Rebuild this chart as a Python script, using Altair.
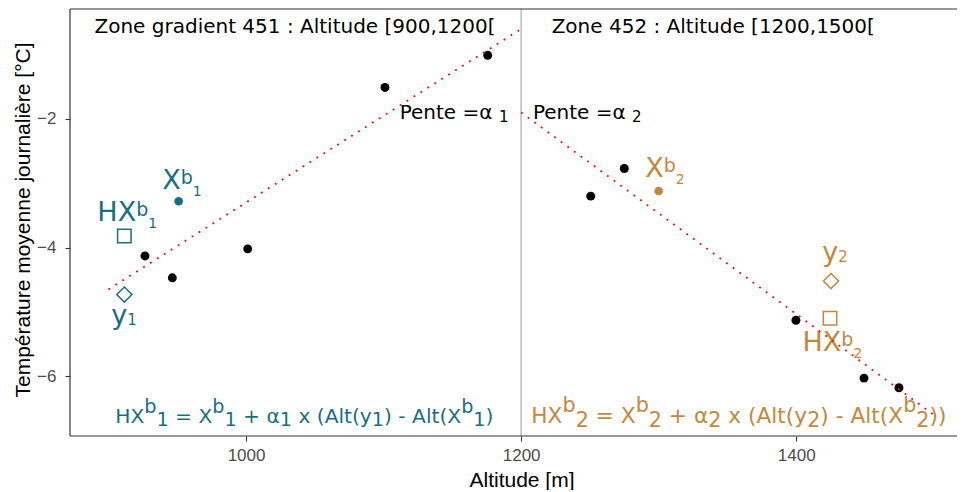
import altair as alt
import pandas as pd

# ---------------- data ----------------
PPU = 894 / 650
W, H = 887, 427
XMIN = 872
XMAX = XMIN + W / PPU
YMIN, YMAX = -6.93, -0.29

alt_obs = [926.5, 946.4, 1001.2, 1101, 1175.7, 1250.6, 1275, 1399.8, 1449.3, 1474.7]
temp_obs = [-4.13, -4.47, -4.02, -1.51, -1.01, -3.20, -2.77, -5.13, -6.03, -6.18]

colors = ["#176F86", "#C5883A"]
xb_alt = [951, 1300]
xb_t = [-3.28, -3.12]
hx_alt = [911.5, 1424.6]
hx_t = [-3.82, -5.10]
yo_alt = [911.5, 1425.3]
yo_t = [-4.73, -4.52]

# point labels: (parts, anchor x, baseline y, colour)
lab_parts = [
    [("X", "ln"), ("b", "lsup"), ("1", "lsub")],
    [("HX", "ln"), ("b", "lsup"), ("1", "lsub")],
    [("y", "ln"), ("1", "lysub")],
    [("X", "ln"), ("b", "lsup"), ("2", "lsub")],
    [("HX", "ln"), ("b", "lsup"), ("2", "lsub")],
    [("y", "ln"), ("2", "lysub")],
]
lab_x = [939.0, 891.9, 902.0, 1290.2, 1404.5, 1418.9]
lab_y = [-3.09, -3.588, -5.19, -2.904, -5.61, -4.21]
lab_c = [colors[0]] * 3 + [colors[1]] * 3

fit_zone = ["451", "451", "452", "452"]
fit_alt = [900, 1200, 1200, 1500]
fit_t = [-4.65, -0.6, -1.9, -6.6]

zone_text = ["Zone gradient 451 : Altitude [900,1200[", "Zone 452 : Altitude [1200,1500["]
zone_x = [1035.6, 1339.7]
zone_y = [-0.668, -0.668]

pente_text = ["Pente =α", "Pente =α"]
pente_x = [1111.7, 1208.6]
pente_y = [-2.0, -2.0]
pente_sub = ["1", "2"]
pente_sub_x = [1183.9, 1280.6]
pente_sub_y = [-2.043, -2.043]

f1_parts = [("HX", "an"), ("b", "asup"), ("1", "asub"), (" = X", "an"), ("b", "asup"), ("1", "asub"),
            (" + α", "an"), ("1", "asub"), (" x (Alt(y", "an"), ("1", "asub"), (") - Alt(X", "an"),
            ("b", "asup"), ("1", "asub"), (")", "an")]
f2_parts = [("HX", "bn"), ("b", "bsup"), ("2", "bsub"), (" = X", "bn"), ("b", "bsup"), ("2", "bsub"),
            (" + α", "bn"), ("2", "bsub"), (" x (Alt(y", "bn"), ("2", "bsub"), (") - Alt(X", "bn"),
            ("b", "bsup"), ("2", "bsub"), ("))", "bn")]
f_anchor_x = [904.9, 1207.4]
f_anchor_y = -6.724

# DejaVu Sans advance widths (em)
W_EM = {" ": 0.318, "H": 0.752, "X": 0.685, "b": 0.635, "1": 0.636, "2": 0.636, "=": 0.838,
        "+": 0.838, "α": 0.659, "x": 0.592, "(": 0.390, ")": 0.390, "A": 0.684, "l": 0.278,
        "t": 0.392, "y": 0.592, "-": 0.361}
# style of each text kind: (font size, vertical offset)
STY = {
    "an": (20.2, 0), "asup": (19.2, -10), "asub": (19.2, 3.5),
    "bn": (21.7, 0), "bsup": (20.7, -10.8), "bsub": (20.7, 3.8),
    "ln": (27, 0), "lsup": (19, -5.5), "lsub": (14, 6.5), "lysub": (15, 1),
}


def adv(s, size):
    return sum(W_EM.get(ch, 0.6) for ch in s) * size


rows = []


def add(parts, ax, ay, col):
    cum = 0.0
    for txt, kind in parts:
        size = STY[kind][0]
        lead = len(txt) - len(txt.lstrip(" "))
        start = cum + adv(" " * lead, size)
        rows.append({"x": ax + start / PPU, "y": ay, "t": txt.strip(), "kind": kind, "c": col})
        cum += adv(txt, size)


add(f1_parts, f_anchor_x[0], f_anchor_y, colors[0])
add(f2_parts, f_anchor_x[1], f_anchor_y, colors[1])
for p, lx, ly, lc in zip(lab_parts, lab_x, lab_y, lab_c):
    add(p, lx, ly, lc)
seg_df = pd.DataFrame(rows)

# ---------------- chart ----------------
xscale = alt.Scale(domain=[XMIN, XMAX], nice=False, zero=False)
yscale = alt.Scale(domain=[YMIN, YMAX], nice=False, zero=False)
xaxis = alt.Axis(values=[1000, 1200, 1400], format="d", title="Altitude [m]", titleX=451.5,
                 titleY=50, titleAlign="center", titleBaseline="alphabetic", labelPadding=6)
yaxis = alt.Axis(values=[-2, -4, -6], title="Température moyenne journalière [°C]",
                 titleX=-47, titleY=210.5, titleAngle=270, titleAlign="center",
                 titleBaseline="middle", labelPadding=9)


def X(f="x"):
    return alt.X(f"{f}:Q", scale=xscale, axis=xaxis)


def Y(f="y"):
    return alt.Y(f"{f}:Q", scale=yscale, axis=yaxis)


frame_df = pd.DataFrame({"k": [0]})
FRAME = dict(color="#333333", strokeWidth=1.2)
frame_top = alt.Chart(frame_df).mark_rule(**FRAME).encode(
    x=alt.value(0), x2=alt.value(W), y=alt.value(0))
frame_bottom = alt.Chart(frame_df).mark_rule(**FRAME).encode(
    x=alt.value(0), x2=alt.value(W), y=alt.value(H))
frame_left = alt.Chart(frame_df).mark_rule(**FRAME).encode(
    x=alt.value(0), y=alt.value(0), y2=alt.value(H))

vline = alt.Chart(pd.DataFrame({"x": [1200]})).mark_rule(
    color="#BEBEBE", strokeWidth=1.6
).encode(x=X())

obs = alt.Chart(pd.DataFrame({"x": alt_obs, "y": temp_obs})).mark_circle(
    color="black", size=80, opacity=1
).encode(x=X(), y=Y())

mk = pd.DataFrame({"xb": xb_alt, "xbt": xb_t, "hx": hx_alt, "hxt": hx_t, "yo": yo_alt, "yot": yo_t,
                   "c": colors})
xb_pts = alt.Chart(mk).mark_circle(size=75, opacity=1).encode(
    x=X("xb"), y=Y("xbt"), color=alt.Color("c:N", scale=None))
hx_pts = alt.Chart(mk).mark_point(shape="square", size=180, filled=False, strokeWidth=1.5,
                                  opacity=1).encode(
    x=X("hx"), y=Y("hxt"), color=alt.Color("c:N", scale=None))
yo_pts = alt.Chart(mk).mark_point(shape="diamond", size=230, filled=False, strokeWidth=1.5,
                                  opacity=1).encode(
    x=X("yo"), y=Y("yot"), color=alt.Color("c:N", scale=None))

zones = alt.Chart(pd.DataFrame({"x": zone_x, "y": zone_y, "t": zone_text})).mark_text(
    font="DejaVu Sans", fontSize=20, align="center", baseline="alphabetic", color="black"
).encode(x=X(), y=Y(), text="t:N")

pente = alt.Chart(pd.DataFrame({"x": pente_x, "y": pente_y, "t": pente_text})).mark_text(
    font="DejaVu Sans", fontSize=20, align="left", baseline="alphabetic", color="black"
).encode(x=X(), y=Y(), text="t:N")
pente_s = alt.Chart(pd.DataFrame({"x": pente_sub_x, "y": pente_sub_y, "t": pente_sub})).mark_text(
    font="DejaVu Sans", fontSize=15, align="left", baseline="alphabetic", color="black"
).encode(x=X(), y=Y(), text="t:N")

seg_layers = []
for kind, (fs, dy) in STY.items():
    sub = seg_df[seg_df.kind == kind]
    if len(sub) == 0:
        continue
    seg_layers.append(
        alt.Chart(sub).mark_text(
            font="DejaVu Sans", fontSize=fs, align="left", baseline="alphabetic", dy=dy
        ).encode(x=X(), y=Y(), text="t:N", color=alt.Color("c:N", scale=None))
    )

fits = alt.Chart(pd.DataFrame({"x": fit_alt, "y": fit_t, "z": fit_zone})).mark_line(
    color="#FF0000", strokeWidth=1.8, strokeDash=[1.8, 6.4]
).encode(x=X(), y=Y(), detail="z:N")

chart = alt.layer(
    vline, obs, xb_pts, hx_pts, yo_pts, zones, pente, pente_s, *seg_layers, fits,
    frame_top, frame_bottom, frame_left
).properties(
    width=W, height=H,
    autosize=alt.AutoSizeParams(type="none"),
    padding={"left": 62, "top": 1, "right": 0, "bottom": 54},
).configure_view(
    stroke="transparent"
).configure_axis(
    grid=False, domain=False,
    labelFont="Liberation Sans", labelFontSize=17, labelColor="#4D4D4D",
    titleFont="Liberation Sans", titleFontSize=21, titleColor="black", titleFontWeight="normal",
    tickColor="#333333", tickWidth=1.1, tickSize=5,
)

chart.save("out.html", embed_options={"renderer": "svg", "actions": False})
